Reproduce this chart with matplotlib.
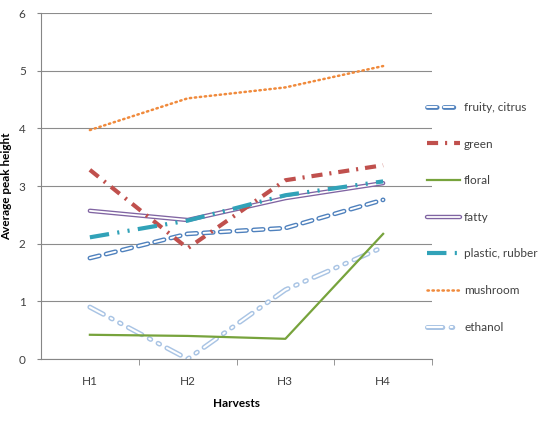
import matplotlib
matplotlib.use("Agg")
import matplotlib.pyplot as plt
from matplotlib.legend_handler import HandlerTuple

plt.rcParams['font.family'] = ['Lato', 'DejaVu Sans']
plt.rcParams['lines.scale_dashes'] = False

harvests = ["H1", "H2", "H3", "H4"]
fruity = [1.75, 2.17, 2.27, 2.76]
green = [3.28, 1.92, 3.10, 3.36]
floral = [0.42, 0.40, 0.35, 2.17]
fatty = [2.57, 2.41, 2.79, 3.05]
plastic = [2.11, 2.40, 2.84, 3.08]
mushroom = [3.97, 4.52, 4.71, 5.08]
ethanol = [0.90, 0.00, 1.20, 1.94]

fig = plt.figure(figsize=(5.48, 4.21), dpi=100)
ax = fig.add_axes([41/548, 62/421, 391/548, 346/421])
x = list(range(len(harvests)))


def double_line(y, color, outer_ls, inner_ls, lw_o=3.4, lw_i=1.4, z=2):
    a, = ax.plot(x, y, color=color, lw=lw_o, linestyle=outer_ls,
                 dash_capstyle='round', solid_capstyle='round', zorder=z)
    b, = ax.plot(x, y, color='white', lw=lw_i, linestyle=inner_ls,
                 dash_capstyle='round', solid_capstyle='round', zorder=z + 0.1)
    return (a, b)


h1 = double_line(fruity, '#4F81BD', (0, (7, 5)), (0, (7, 5)))
h2, = ax.plot(x, green, color='#C0504D', lw=3, linestyle=(0, (8, 5, 1.5, 5)), zorder=3)
h3, = ax.plot(x, floral, color='#77A33C', lw=1.6, zorder=3)
h4 = double_line(fatty, '#8064A2', '-', '-', lw_o=3.2, lw_i=1.3)
h5, = ax.plot(x, plastic, color='#31A2B8', lw=3, linestyle=(0, (14, 6, 1.5, 6, 1.5, 6)), zorder=3)
h6, = ax.plot(x, mushroom, color='#F08A3C', lw=1.8, linestyle=(0, (1.0, 2.6)),
              dash_capstyle='round', zorder=3)
h7 = double_line(ethanol, '#A9C4E4', (0, (11, 6, 1.2, 6, 1.2, 6)),
                 (0, (11, 6, 1.2, 6, 1.2, 6)), lw_o=3.6, lw_i=1.5)

labels = ['fruity, citrus', 'green', 'floral', 'fatty', 'plastic, rubber',
          'mushroom', 'ethanol']

ax.set_xlim(-0.5, 3.5)
ax.set_ylim(0, 6)
ax.set_yticks(range(0, 7))
ax.set_xticks(x)
ax.set_xticklabels(harvests)
ax.set_xticks([0.5, 1.5, 2.5, 3.5], minor=True)
ax.tick_params(axis='x', which='major', length=0, pad=12, labelsize=8.5, colors='#404040')
ax.tick_params(axis='x', which='minor', length=4, color='#868686')
ax.tick_params(axis='y', length=3, width=0.8, color='#868686', labelsize=8.5, pad=8,
               labelcolor='#404040')
ax.grid(axis='y', color='#8C8C8C', lw=0.8)
ax.set_axisbelow(True)
for s in ['top', 'right']:
    ax.spines[s].set_visible(False)
ax.spines['bottom'].set_color('#868686')
ax.spines['left'].set_color('#868686')
ax.spines['left'].set_linewidth(0.8)
ax.set_xlabel('Harvests', fontsize=8.5, fontweight='bold', labelpad=8)
ax.set_ylabel('Average peak height', fontsize=8.5, fontweight='bold')
ax.yaxis.set_label_coords(-0.075, 0.5)

leg = fig.legend(handles=[h1, h2, h3, h4, h5, h6, h7], labels=labels, loc='upper left',
                 bbox_to_anchor=(427/548, 1 - 102/421), frameon=False, borderpad=0,
                 borderaxespad=0, fontsize=8.5, handlelength=2.8, labelspacing=2.17,
                 handletextpad=0.35, labelcolor='#404040',
                 handler_map={tuple: HandlerTuple(ndivide=1, pad=0)})

fig.savefig('out.png', dpi=100)
